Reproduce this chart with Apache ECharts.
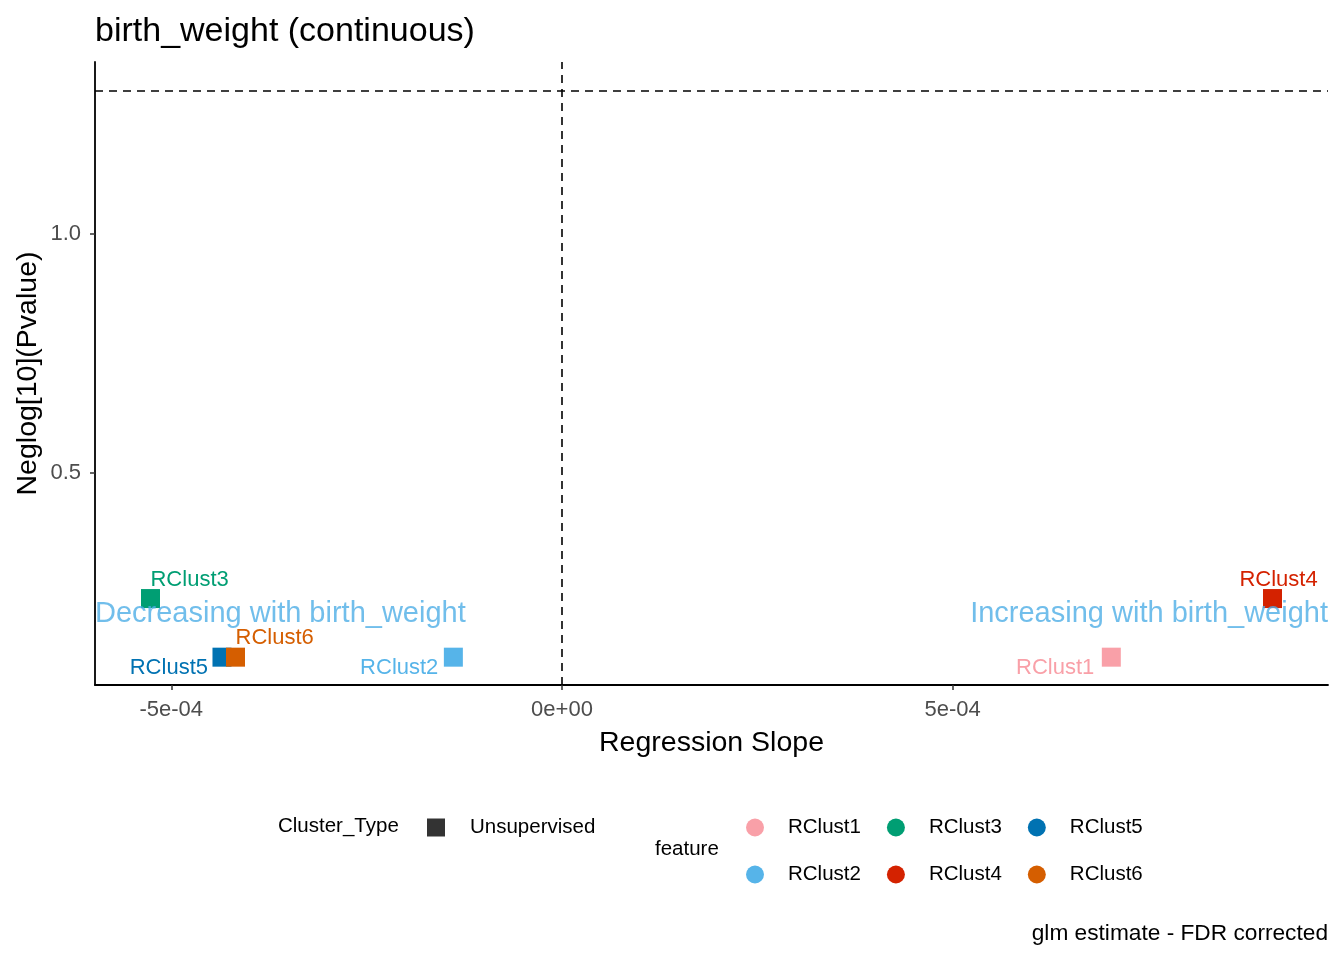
<!DOCTYPE html>
<html>
<head>
<meta charset="utf-8">
<script src="https://cdn.jsdelivr.net/npm/echarts@6/dist/echarts.min.js"></script>
<style>
html,body{margin:0;padding:0;background:#fff;}
#chart{width:1344px;height:960px;}
</style>
</head>
<body>
<div id="chart"></div>
<script>
// ---- data ----
const features = ['RClust1', 'RClust2', 'RClust3', 'RClust4', 'RClust5', 'RClust6'];
const slopes = [7.03e-4, -1.39e-4, -5.266e-4, 9.093e-4, -4.351e-4, -4.178e-4];
const negLogP = [0.1149, 0.1149, 0.2375, 0.2375, 0.1149, 0.1149];
const clusterTypes = ['Unsupervised'];
const featureColors = ['#F9A0A8', '#56B4E9', '#009E73', '#D42200', '#0072B2', '#D55E00'];

const xRange = [-5.976e-4, 9.803e-4];
const yRange = [0.0567, 1.3597];
const xTickValues = [-5e-4, 0, 5e-4];
const xTickLabels = ['-5e-04', '0e+00', '5e-04'];
const yTickValues = [0.5, 1.0];
const yTickLabels = ['0.5', '1.0'];

const refSlope = 0;
const refNegLogP = 1.30103; // -log10(0.05)

const annotationTexts = ['Decreasing with birth_weight', 'Increasing with birth_weight'];
const annotationX = [xRange[0], xRange[1]];
const annotationY = [0.205, 0.205];

// ---- label layout (styling only) ----
const labelLayout = {
  RClust1: {align: 'right', offset: [-17, 11]},
  RClust2: {align: 'right', offset: [-15, 11]},
  RClust3: {align: 'left', offset: [0, -19]},
  RClust4: {align: 'center', offset: [6, -19]},
  RClust5: {align: 'right', offset: [-14, 11]},
  RClust6: {align: 'left', offset: [0, -19]}
};

const FONT = '"Liberation Sans", Arial, Helvetica, sans-serif';

const series = features.map((f, i) => ({
  name: f,
  type: 'scatter',
  symbol: 'rect',
  symbolSize: 19,
  itemStyle: {color: featureColors[i], opacity: 1},
  data: [[slopes[i], negLogP[i], clusterTypes[0]]],
  label: {
    show: true,
    position: 'inside',
    formatter: f,
    color: featureColors[i],
    fontFamily: FONT,
    fontSize: 22,
    align: labelLayout[f].align,
    verticalAlign: 'middle',
    offset: labelLayout[f].offset
  },
  emphasis: {disabled: true},
  z: 3
}));

series.push({
  name: clusterTypes[0],
  type: 'scatter',
  symbol: 'rect',
  itemStyle: {color: '#000'},
  data: []
});

series.push({
  name: 'annotations',
  type: 'scatter',
  symbolSize: 1,
  itemStyle: {color: 'transparent'},
  silent: true,
  z: 4,
  data: annotationTexts.map((t, i) => ({
    value: [annotationX[i], annotationY[i]],
    label: {
      show: true,
      position: 'inside',
      formatter: t,
      align: i === 0 ? 'left' : 'right',
      verticalAlign: 'middle',
      color: '#4EAEE6',
      fontFamily: FONT,
      fontSize: 29
    }
  })),
  markLine: {
    silent: true,
    symbol: ['none', 'none'],
    label: {show: false},
    lineStyle: {color: '#000', type: [8, 6], width: 1.6},
    emphasis: {disabled: true},
    data: [{xAxis: refSlope}, {yAxis: refNegLogP}]
  }
});

const chart = echarts.init(document.getElementById('chart'), null, {renderer: 'canvas'});
chart.setOption({
  animation: false,
  backgroundColor: '#ffffff',
  textStyle: {fontFamily: FONT},
  title: [
    {text: 'birth_weight (continuous)', left: 95, top: 15, padding: 0,
     textStyle: {fontFamily: FONT, fontSize: 34, fontWeight: 'normal', color: '#000', lineHeight: 34}},
    {text: 'Cluster_Type', left: 278, top: 816, padding: 0,
     textStyle: {fontFamily: FONT, fontSize: 20.5, fontWeight: 'normal', color: '#000', lineHeight: 20}},
    {text: 'feature', left: 655, top: 839, padding: 0,
     textStyle: {fontFamily: FONT, fontSize: 20.5, fontWeight: 'normal', color: '#000', lineHeight: 20}},
    {text: 'glm estimate - FDR corrected', right: 16, top: 923, padding: 0,
     textStyle: {fontFamily: FONT, fontSize: 22.7, fontWeight: 'normal', color: '#000', lineHeight: 22}}
  ],
  legend: [
    {
      data: clusterTypes,
      left: 427, top: 817, padding: 0,
      icon: 'rect', itemWidth: 18, itemHeight: 18,
      selectedMode: false,
      itemStyle: {color: '#000'},
      textStyle: {fontFamily: FONT, fontSize: 20.5, color: '#000', padding: [0, 0, 0, 20]}
    },
    {
      data: features,
      orient: 'vertical',
      left: 746, top: 817, height: 70, padding: 0,
      icon: 'circle', itemWidth: 18, itemHeight: 18, itemGap: 26,
      selectedMode: false,
      textStyle: {fontFamily: FONT, fontSize: 20.5, color: '#000', padding: [0, 0, 0, 19]}
    }
  ],
  grid: {left: 95, right: 16, top: 62, bottom: 275, containLabel: false},
  xAxis: {
    type: 'value',
    min: xRange[0], max: xRange[1],
    name: 'Regression Slope',
    nameLocation: 'middle',
    nameGap: 44,
    nameMoveOverlap: false,
    nameTextStyle: {fontFamily: FONT, fontSize: 28.5, color: '#000'},
    splitLine: {show: false},
    axisLine: {show: true, onZero: false, lineStyle: {color: '#000', width: 1.8}},
    axisTick: {show: true, length: 5, customValues: xTickValues, lineStyle: {color: '#333', width: 1.5}},
    axisLabel: {
      customValues: xTickValues,
      margin: 14,
      fontFamily: FONT, fontSize: 22, color: '#4D4D4D',
      formatter: v => {
        const idx = xTickValues.findIndex(t => Math.abs(t - v) < 1e-9);
        return idx >= 0 ? xTickLabels[idx] : '';
      }
    }
  },
  yAxis: {
    type: 'value',
    min: yRange[0], max: yRange[1],
    name: 'Neglog[10](Pvalue)',
    nameLocation: 'middle',
    nameGap: 52,
    nameMoveOverlap: false,
    nameTextStyle: {fontFamily: FONT, fontSize: 28.5, color: '#000'},
    splitLine: {show: false},
    axisLine: {show: true, onZero: false, lineStyle: {color: '#000', width: 1.8}},
    axisTick: {show: true, length: 5, customValues: yTickValues, lineStyle: {color: '#333', width: 1.5}},
    axisLabel: {
      customValues: yTickValues,
      margin: 14,
      fontFamily: FONT, fontSize: 22, color: '#4D4D4D',
      formatter: v => {
        const idx = yTickValues.findIndex(t => Math.abs(t - v) < 1e-9);
        return idx >= 0 ? yTickLabels[idx] : '';
      }
    }
  },
  series: series
});
</script>
</body>
</html>
